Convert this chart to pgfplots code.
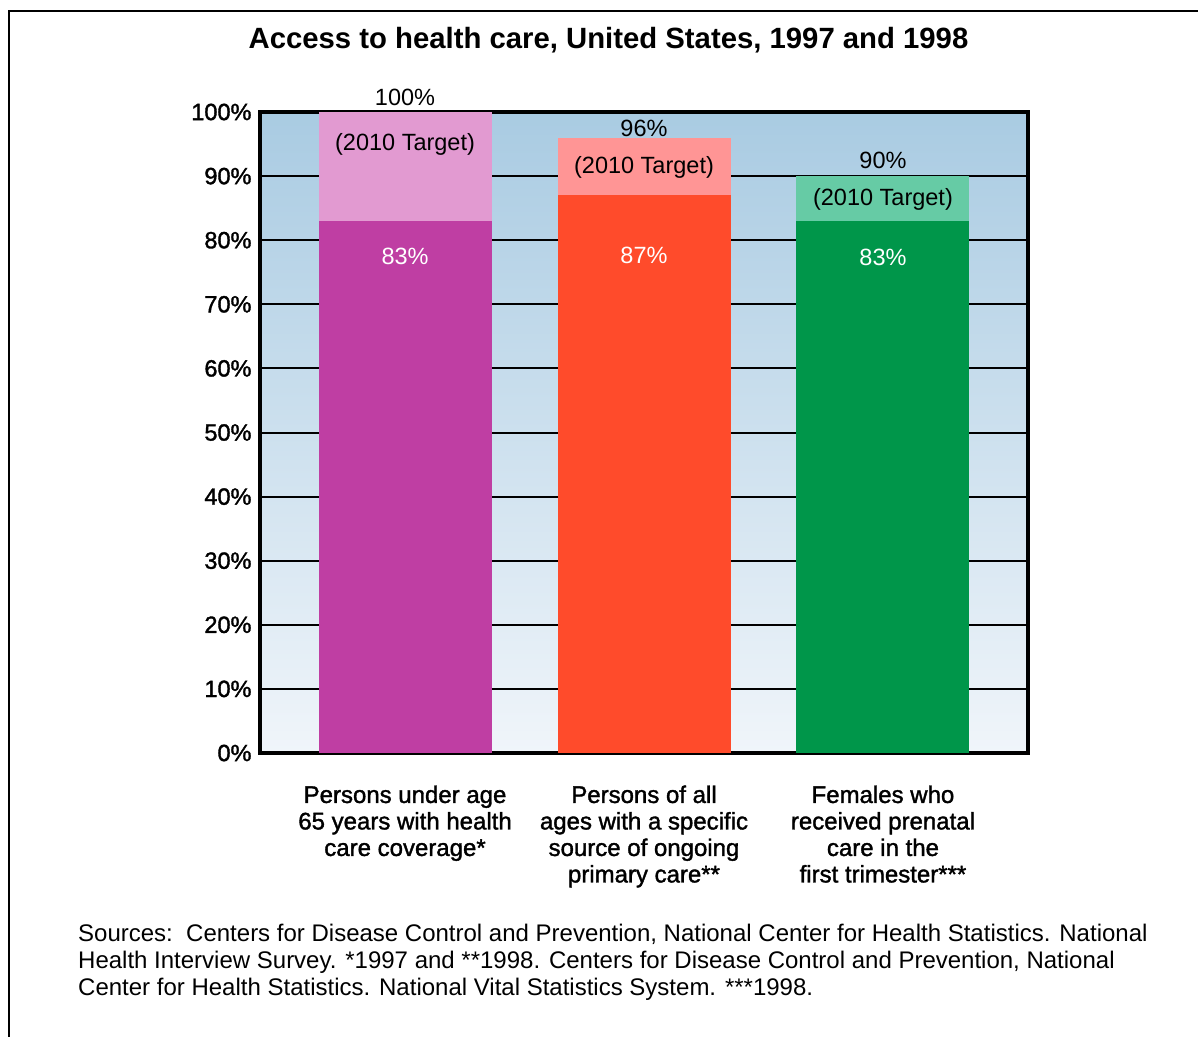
\documentclass[border=0pt]{standalone}
\usepackage{pgfplots}
\pgfplotsset{compat=1.18}
\usepackage{fontspec}
\setmainfont{Liberation Sans}
\newfontfamily\fb[FakeBold=1.5]{Liberation Sans}
\definecolor{magD}{RGB}{191,62,163}
\definecolor{magL}{RGB}{226,154,209}
\definecolor{redD}{RGB}{255,75,43}
\definecolor{redL}{RGB}{255,149,149}
\definecolor{grnD}{RGB}{0,150,74}
\definecolor{grnL}{RGB}{102,203,165}
\definecolor{bgTop}{RGB}{169,203,226}
\definecolor{bgBot}{RGB}{240,245,250}
\begin{document}
\begin{tikzpicture}
\useasboundingbox (0pt,0pt) rectangle (1198pt,-1036pt);
\draw[line width=2.5pt] (9pt,-1040pt) -- (9pt,-11pt) -- (1205pt,-11pt);
\node[font=\fontsize{29.3}{33}\selectfont\bfseries] at (608.5pt,-40pt) {Access to health care, United States, 1997 and 1998};
\begin{axis}[
  at={(260pt,-753pt)}, anchor=south west,
  width=768pt, height=641pt, scale only axis,
  xmin=-0.607, xmax=2.607, ymin=0, ymax=100,
  clip=false,
  axis background/.style={shade, top color=bgTop, bottom color=bgBot},
  axis line style={line width=3.5pt},
  ymajorgrids, major grid style={black, line width=2pt},
  ytick={0,10,...,100},
  yticklabels={0\%,10\%,20\%,30\%,40\%,50\%,60\%,70\%,80\%,90\%,100\%},
  yticklabel style={font=\fontsize{23.5}{26}\fb, xshift=-5pt},
  xtick={0,1,2},
  xticklabels={{Persons under age\\65 years with health\\care coverage*},
               {Persons of all\\ages with a specific\\source of ongoing\\primary care**},
               {Females who\\received prenatal\\care in the\\first trimester***}},
  xticklabel style={font=\fontsize{24}{26.5}\fb, align=center, anchor=north, yshift=-29pt},
  major tick length=0pt,
  ybar, bar width=0.724,
]
\addplot[fill=magL, draw=none, bar shift=0pt] coordinates {(0,100)};
\addplot[fill=magD, draw=none, bar shift=0pt] coordinates {(0,83)};
\addplot[fill=redL, draw=none, bar shift=0pt] coordinates {(1,96)};
\addplot[fill=redD, draw=none, bar shift=0pt] coordinates {(1,87)};
\addplot[fill=grnL, draw=none, bar shift=0pt] coordinates {(2,90)};
\addplot[fill=grnD, draw=none, bar shift=0pt] coordinates {(2,83)};
\begin{scope}[every node/.style={font=\fontsize{23.5}{26}\selectfont}]
\node at (axis cs:0,102.2) {100\%};
\node at (axis cs:1,97.5) {96\%};
\node at (axis cs:2,92.4) {90\%};
\node at (axis cs:0,94.9) {(2010 Target)};
\node at (axis cs:1,91.4) {(2010 Target)};
\node at (axis cs:2,86.3) {(2010 Target)};
\node[white] at (axis cs:0,77.5) {83\%};
\node[white] at (axis cs:1,77.6) {87\%};
\node[white] at (axis cs:2,77.3) {83\%};
\end{scope}
\end{axis}
\node[anchor=north west, align=left, font=\fontsize{24}{27}\selectfont, inner sep=0pt] at (78pt,-924pt)
{Sources:\ \ Centers for Disease Control and Prevention, National Center for Health Statistics. National\\
Health Interview Survey. *1997 and **1998. Centers for Disease Control and Prevention, National\\
Center for Health Statistics. National Vital Statistics System. ***1998.};
\end{tikzpicture}
\end{document}
